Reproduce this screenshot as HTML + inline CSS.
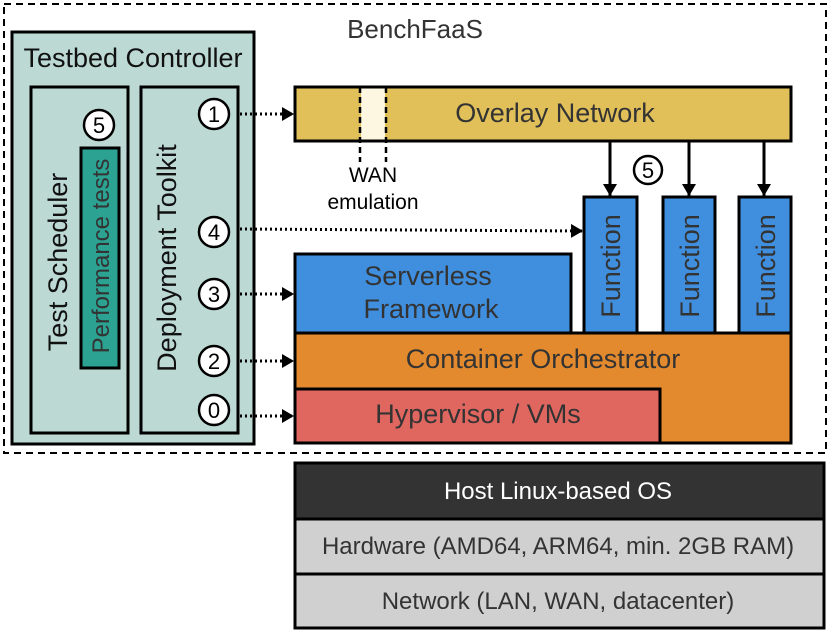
<!DOCTYPE html>
<html><head><style>body{margin:0;background:#fff}svg{display:block}text{font-family:"Liberation Sans",sans-serif;fill:#333}</style></head>
<body>
<svg width="830" height="636" viewBox="0 0 830 636" xmlns="http://www.w3.org/2000/svg">
<defs><marker id="b" markerWidth="12" markerHeight="14" refX="12" refY="7" orient="auto" markerUnits="userSpaceOnUse"><path d="M0,0L12,7L0,14z" fill="#000"/></marker></defs>
<rect x="4" y="4" width="822" height="449" fill="none" stroke="#000" stroke-width="2" stroke-dasharray="7,5"/>
<text x="415" y="38" font-size="26" text-anchor="middle">BenchFaaS</text>
<rect x="12" y="32" width="242" height="412" fill="#bcdad3" stroke="#000" stroke-width="3"/>
<text x="133" y="67" font-size="27" text-anchor="middle" style="fill:#111">Testbed Controller</text>
<rect x="31" y="87" width="97" height="346" fill="none" stroke="#000" stroke-width="3"/>
<rect x="141" y="87" width="97" height="346" fill="none" stroke="#000" stroke-width="3"/>
<text transform="translate(67,262) rotate(-90)" font-size="27" text-anchor="middle" style="fill:#111">Test Scheduler</text>
<rect x="81" y="148" width="38" height="220" fill="#2ba292" stroke="#000" stroke-width="3"/>
<text transform="translate(109,256) rotate(-90)" font-size="24" text-anchor="middle">Performance tests</text>
<text transform="translate(176,258) rotate(-90)" font-size="27" text-anchor="middle" style="fill:#111">Deployment Toolkit</text>
<g stroke="#000" stroke-width="2.5" fill="#fff">
<circle cx="99" cy="125" r="15"/><circle cx="214" cy="114" r="15"/><circle cx="214" cy="232" r="15"/><circle cx="214" cy="294" r="15"/><circle cx="214" cy="361" r="15"/><circle cx="214" cy="410" r="15"/><circle cx="648" cy="170" r="14"/></g>
<g font-size="22" text-anchor="middle">
<text x="99" y="133" style="fill:#000">5</text><text x="214" y="122" style="fill:#000">1</text><text x="214" y="240" style="fill:#000">4</text><text x="214" y="302" style="fill:#000">3</text><text x="214" y="369" style="fill:#000">2</text><text x="214" y="418" style="fill:#000">0</text><text x="648" y="178" style="fill:#000">5</text></g>
<g stroke="#000" stroke-width="3" stroke-dasharray="2,3" fill="none">
<line x1="240" y1="114" x2="294" y2="114" marker-end="url(#b)"/>
<line x1="240" y1="294" x2="294" y2="294" marker-end="url(#b)"/>
<line x1="240" y1="361" x2="294" y2="361" marker-end="url(#b)"/>
<line x1="240" y1="416" x2="294" y2="416" marker-end="url(#b)"/>
<line x1="240" y1="229" x2="583" y2="231" marker-end="url(#b)"/></g>
<rect x="295" y="87" width="496" height="54" fill="#e1c05a" stroke="#000" stroke-width="3"/>
<rect x="361" y="88.5" width="24" height="51" fill="#fdf6e1"/>
<g stroke="#000" stroke-width="2.5" stroke-dasharray="6,4"><line x1="360" y1="87" x2="360" y2="162"/><line x1="386" y1="87" x2="386" y2="162"/></g>
<text x="555" y="122" font-size="27" text-anchor="middle">Overlay Network</text>
<text x="373" y="182" font-size="21" text-anchor="middle" style="fill:#000">WAN</text>
<text x="373" y="209" font-size="21" text-anchor="middle" style="fill:#000">emulation</text>
<rect x="295" y="333" width="496" height="110" fill="#e38a2e" stroke="#000" stroke-width="3"/>
<rect x="295" y="389" width="365" height="54" fill="#e06660" stroke="#000" stroke-width="3"/>
<rect x="295" y="254" width="276" height="79" fill="#408fdf" stroke="#000" stroke-width="3"/>
<text x="428" y="285" font-size="27" text-anchor="middle">Serverless</text>
<text x="431" y="318" font-size="27" text-anchor="middle">Framework</text>
<text x="543" y="368" font-size="27" text-anchor="middle">Container Orchestrator</text>
<text x="478" y="423" font-size="27" text-anchor="middle">Hypervisor / VMs</text>
<g fill="#408fdf" stroke="#000" stroke-width="3">
<rect x="584" y="197" width="53" height="136"/><rect x="663" y="197" width="52" height="136"/><rect x="739" y="197" width="52" height="136"/></g>
<g font-size="27" text-anchor="middle">
<text transform="translate(620,266) rotate(-90)">Function</text>
<text transform="translate(699,266) rotate(-90)">Function</text>
<text transform="translate(775,266) rotate(-90)">Function</text></g>
<g stroke="#000" stroke-width="3">
<line x1="610" y1="141" x2="610" y2="196" marker-end="url(#b)"/>
<line x1="689" y1="141" x2="689" y2="196" marker-end="url(#b)"/>
<line x1="764" y1="141" x2="764" y2="196" marker-end="url(#b)"/></g>
<rect x="295" y="463" width="529" height="56" fill="#333" stroke="#000" stroke-width="3"/>
<rect x="295" y="519" width="529" height="55" fill="#d0d0d0" stroke="#000" stroke-width="3"/>
<rect x="295" y="574" width="529" height="54" fill="#d0d0d0" stroke="#000" stroke-width="3"/>
<text x="558" y="499" font-size="24" text-anchor="middle" style="fill:#fff">Host Linux-based OS</text>
<text x="558" y="554" font-size="24" text-anchor="middle">Hardware (AMD64, ARM64, min. 2GB RAM)</text>
<text x="558" y="609" font-size="24" text-anchor="middle">Network (LAN, WAN, datacenter)</text>
</svg>
</body></html>
